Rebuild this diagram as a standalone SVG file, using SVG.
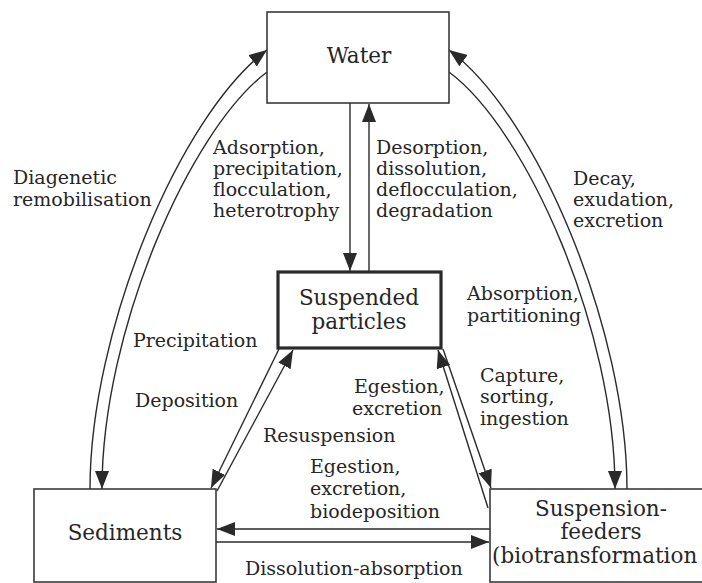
<svg xmlns="http://www.w3.org/2000/svg" width="702" height="583" viewBox="0 0 702 583">
<style>
.box{fill:#fff;stroke:#3a3a3a;stroke-width:1.6}
.thick{fill:#fff;stroke:#2a2a2a;stroke-width:3.2}
.node{font-family:"DejaVu Serif","Liberation Serif",serif;font-size:21.5px;fill:#262626}
.lbl{font-family:"DejaVu Serif","Liberation Serif",serif;font-size:19px;fill:#262626}
.c{fill:none;stroke:#2a2a2a;stroke-width:1.4}
.a{marker-end:url(#ah)}
</style>
<defs>
<marker id="ah" markerUnits="userSpaceOnUse" markerWidth="20" markerHeight="16" refX="18" refY="7" orient="auto">
<path d="M0,0 L18,7 L0,14 z" fill="#2a2a2a"/>
</marker>
</defs>
<g id="connectors">
<path class="c a" d="M90 489 C90 330 180 115 267 50"/>
<path class="c a" d="M267 72 C190 130 102 330 102 489"/>
<path class="c a" d="M627 489 C627 330 537 115 449 50"/>
<path class="c a" d="M449 72 C527 130 615 330 615 489"/>
<path class="c a" d="M350 103 L350 271"/>
<path class="c a" d="M369 272 L369 104"/>
<path class="c a" d="M279 349 L211 488"/>
<path class="c a" d="M217 491 L293 350"/>
<path class="c a" d="M488 508 L438 350"/>
<path class="c a" d="M443 349 L491 488"/>
<path class="c a" d="M490 529 L217 529"/>
<path class="c a" d="M216 542 L489 542"/>
</g>
<g id="water">
<rect class="box" x="267" y="12" width="182" height="91"/>
<text class="node" x="359" y="63" text-anchor="middle">Water</text>
</g>
<g id="suspended">
<rect class="thick" x="278" y="272" width="163" height="76"/>
<text class="node" x="359" y="305" text-anchor="middle">Suspended</text>
<text class="node" x="359" y="329" text-anchor="middle">particles</text>
</g>
<g id="sediments">
<rect class="box" x="34" y="489" width="182" height="93"/>
<text class="node" x="125" y="540" text-anchor="middle">Sediments</text>
</g>
<g id="feeders">
<rect class="box" x="490" y="489" width="220" height="93"/>
<text class="node" x="601" y="516" text-anchor="middle">Suspension-</text>
<text class="node" x="601" y="539" text-anchor="middle">feeders</text>
<text class="node" x="492" y="563">(biotransformation</text>
</g>
<g id="labels">
<text class="lbl" x="13" y="184">Diagenetic</text>
<text class="lbl" x="13" y="206">remobilisation</text>
<text class="lbl" x="213" y="154">Adsorption,</text>
<text class="lbl" x="213" y="175">precipitation,</text>
<text class="lbl" x="213" y="196">flocculation,</text>
<text class="lbl" x="213" y="217">heterotrophy</text>
<text class="lbl" x="376" y="154">Desorption,</text>
<text class="lbl" x="376" y="175">dissolution,</text>
<text class="lbl" x="376" y="196">deflocculation,</text>
<text class="lbl" x="376" y="217">degradation</text>
<text class="lbl" x="573" y="185">Decay,</text>
<text class="lbl" x="573" y="206">exudation,</text>
<text class="lbl" x="573" y="227">excretion</text>
<text class="lbl" x="467" y="300">Absorption,</text>
<text class="lbl" x="467" y="322">partitioning</text>
<text class="lbl" x="133" y="347">Precipitation</text>
<text class="lbl" x="135" y="407">Deposition</text>
<text class="lbl" x="354" y="393">Egestion,</text>
<text class="lbl" x="352" y="415">excretion</text>
<text class="lbl" x="480" y="382">Capture,</text>
<text class="lbl" x="480" y="403">sorting,</text>
<text class="lbl" x="480" y="425">ingestion</text>
<text class="lbl" x="263" y="442">Resuspension</text>
<text class="lbl" x="310" y="473">Egestion,</text>
<text class="lbl" x="310" y="495">excretion,</text>
<text class="lbl" x="310" y="518">biodeposition</text>
<text class="lbl" x="245" y="575">Dissolution-absorption</text>
</g>
</svg>
